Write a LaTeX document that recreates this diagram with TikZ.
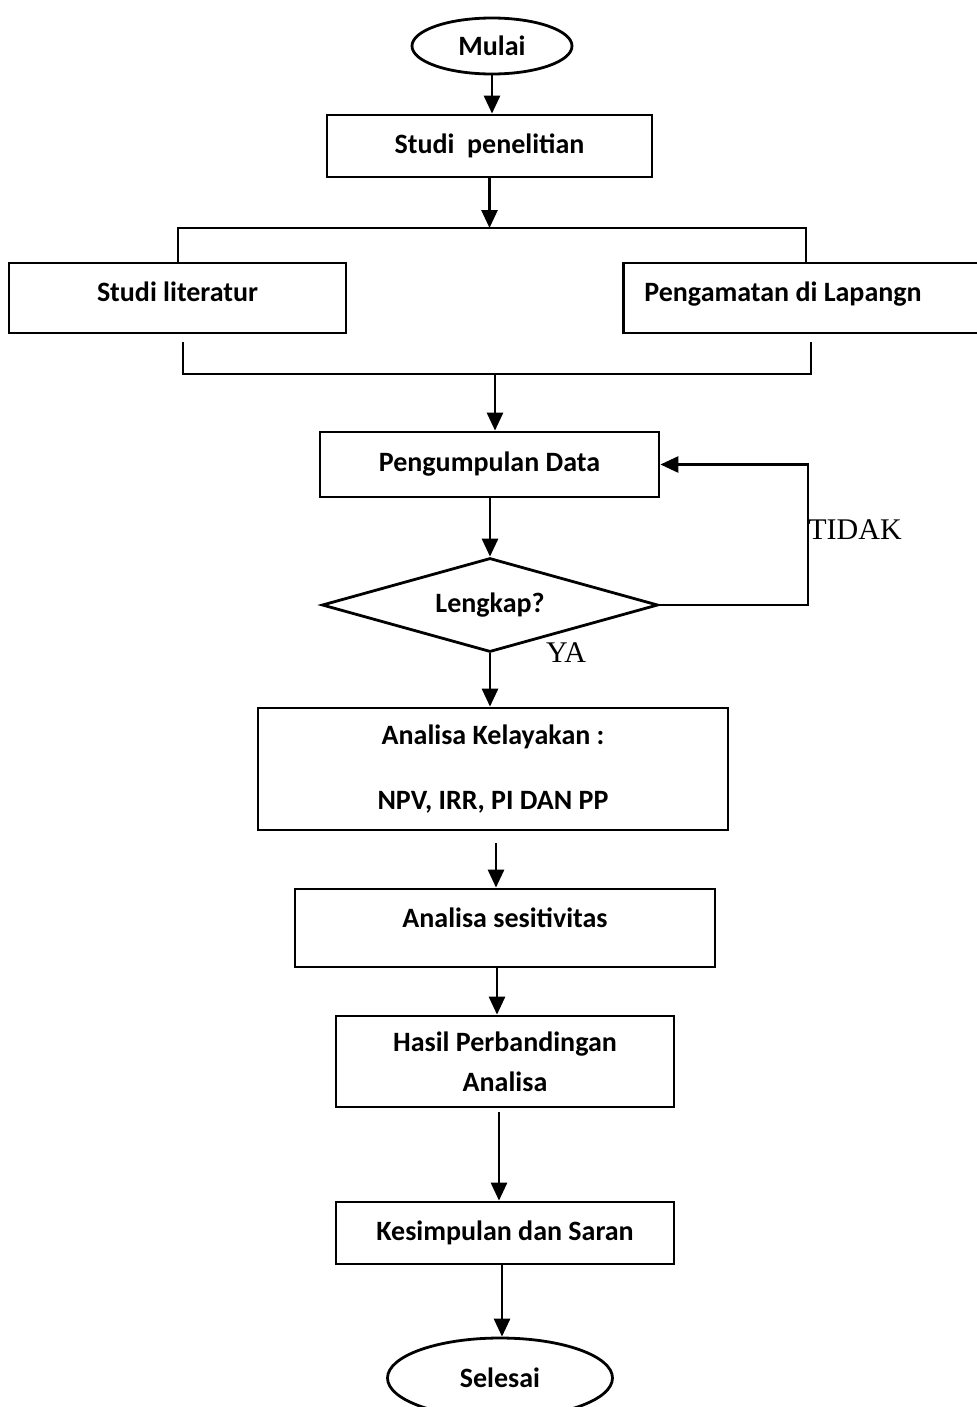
\documentclass[tikz,border=0pt]{standalone}
\usepackage{fontspec}
\setmainfont{Carlito}
\newfontfamily\timesf{Liberation Serif}
\usetikzlibrary{arrows.meta,shapes.geometric,calc}
\begin{document}
\begin{tikzpicture}[x=0.75pt,y=-0.75pt,
  line width=2.1pt,
  every node/.style={font=\fontsize{21}{25}\selectfont\bfseries},
  box/.style={draw, rectangle, inner sep=0pt, line width=2.1pt, align=center},
  term/.style={draw, ellipse, inner sep=0pt, line width=2.1pt},
  dec/.style={draw, diamond, shape aspect=3.6, inner sep=0pt, line width=2.1pt},
  arr/.style={-{Triangle[length=13.5pt,width=12pt]}},
  lbl/.style={font=\timesf\fontsize{22.5}{26}\selectfont, inner sep=0pt}
]
\useasboundingbox (0,0) rectangle (977,1407);

% nodes
\node[term, minimum width=120pt, minimum height=42pt] (start) at (492,46) {Mulai};
\node[box, minimum width=243.75pt, minimum height=46.5pt] (studi) at (489.5,146) {Studi\ \ penelitian};
\node[box, minimum width=252.75pt, minimum height=52.5pt, text depth=9pt] (lit) at (177.5,298) {Studi literatur};
\node[box, anchor=west, text width=261pt, align=flush left, inner xsep=15.75pt, minimum height=52.5pt, text depth=10pt] (lap) at (622,298) {Pengamatan di Lapangn};
\node[box, minimum width=254.25pt, minimum height=48.75pt] (data) at (489.5,464.5) {Pengumpulan Data};
\node[dec, minimum width=252pt, minimum height=70.5pt] (cek) at (490,605) {Lengkap?};
\node[box, minimum width=352.5pt, minimum height=91.5pt, font=\fontsize{21}{48.75}\selectfont\bfseries] (kel) at (493,769) {Analisa Kelayakan :\\NPV, IRR, PI DAN PP};
\node[box, minimum width=315pt, minimum height=58.5pt, text depth=15pt] (sens) at (505,928) {Analisa sesitivitas};
\node[box, minimum width=253.5pt, minimum height=68.25pt, font=\fontsize{21}{30}\selectfont\bfseries] (hasil) at (505,1061.5) {Hasil Perbandingan\\Analisa};
\node[box, minimum width=253.5pt, minimum height=46.5pt] (kes) at (505,1233) {Kesimpulan dan Saran};
\node[term, minimum width=168.75pt, minimum height=60pt] (end) at (500,1378) {Selesai};

% labels
\node[lbl, anchor=west] (tidak) at (807,530) {TIDAK};
\node[lbl] (ya) at (566,653) {YA};

% helper coordinates
\coordinate (tl) at (178,228);
\coordinate (tr) at (806,228);
\coordinate (bl) at (183,374);
\coordinate (br) at (811,374);
\coordinate (bm) at (495,374);
\coordinate (lp) at (808,605);
\coordinate (k1) at (496,843);
\coordinate (k2) at (497,0);
\coordinate (k3) at (499,1112);
\coordinate (k4) at (502,0);

% connectors
\draw[arr] (start.south) -- (start.south |- studi.north);
\draw[arr] (studi.south) -- (studi.south |- tl);
\draw (lit.north -| tl) -- (tl) -- (tr) -- (lap.north -| tr);
\draw ($(bl)+(0,-32)$) -- (bl) -- (br) -- ($(br)+(0,-32)$);
\draw[arr] (bm) -- (bm |- data.north);
\draw[arr] (cek.north |- data.south) -- (cek.north);
\draw[arr] (cek.east) -- (lp) |- (data.east);
\draw[arr] (cek.south) -- (cek.south |- kel.north);
\draw[arr] (k1) -- (k1 |- sens.north);
\draw[arr] (sens.south -| k2) -- (hasil.north -| k2);
\draw[arr] (k3) -- (k3 |- kes.north);
\draw[arr] (kes.south -| k4) -- (end.north -| k4);
\end{tikzpicture}
\end{document}
